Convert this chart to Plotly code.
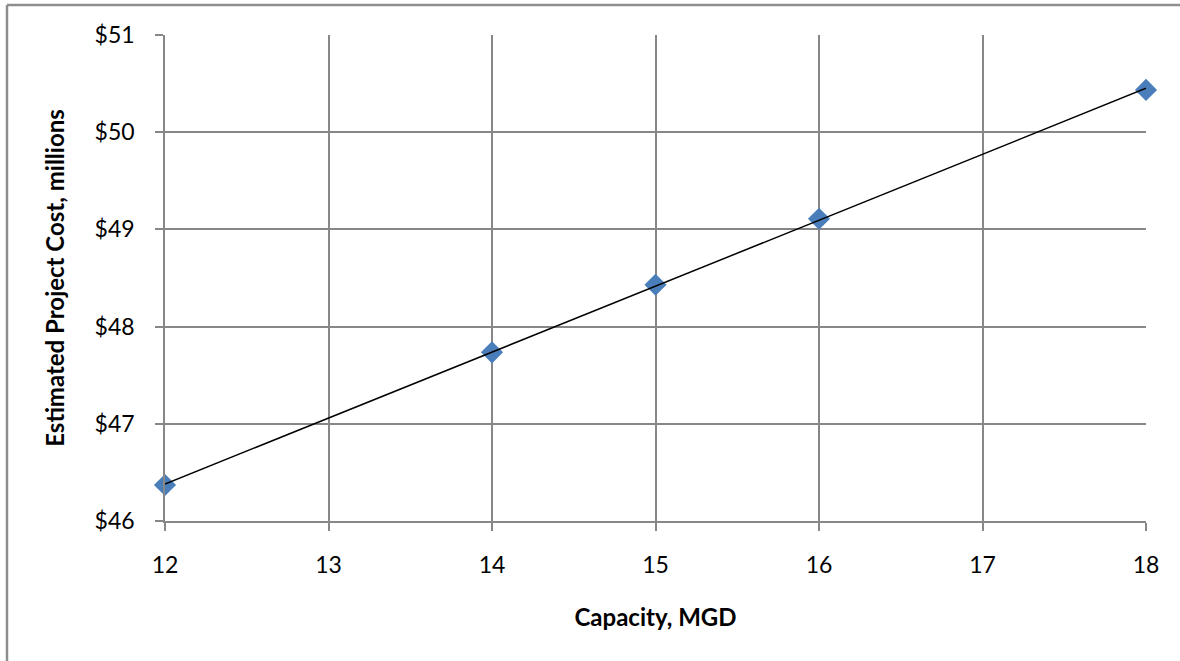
import numpy as np
import plotly.graph_objects as go

# Plant capacity (MGD) and estimated project cost ($ millions)
capacity = [12, 14, 15, 16, 18]
cost = [46.37, 47.735, 48.43, 49.11, 50.435]

x_ticks = [12, 13, 14, 15, 16, 17, 18]
y_ticks = [46, 47, 48, 49, 50, 51]
y_tick_text = ["$46", "$47", "$48", "$49", "$50", "$51"]

# Linear trend through the data
slope, intercept = np.polyfit(capacity, cost, 1)
trend_x = [min(capacity), max(capacity)]
trend_y = [slope * v + intercept for v in trend_x]

W, H = 1180, 661
ML, MR, MT, MB = 165, 34, 35, 140
PW, PH = W - ML - MR, H - MT - MB

FONT = "Lato"
GRID = "#878787"

fig = go.Figure()
fig.add_trace(go.Scatter(
    x=capacity, y=cost, mode="markers",
    marker=dict(symbol="diamond", size=17, color="#4a7ebb",
                line=dict(width=0)),
    showlegend=False, hoverinfo="x+y", cliponaxis=False,
))
# trend line drawn above the markers
fig.add_trace(go.Scatter(
    x=trend_x, y=trend_y, mode="lines",
    line=dict(color="black", width=1.5),
    showlegend=False, hoverinfo="skip", cliponaxis=False,
))

# Chart frame (top and left edges)
fx0 = (7 - ML) / PW
fy0 = (H - MB - 5) / PH
fig.add_shape(type="line", xref="paper", yref="paper",
              x0=fx0, x1=1.2, y0=fy0, y1=fy0,
              line=dict(color="#8e8e8e", width=2.5))
fig.add_shape(type="line", xref="paper", yref="paper",
              x0=fx0, x1=fx0, y0=fy0, y1=-0.4,
              line=dict(color="#8e8e8e", width=2.5))

fig.update_layout(
    width=W, height=H,
    margin=dict(l=ML, r=MR, t=MT, b=MB),
    paper_bgcolor="white", plot_bgcolor="white",
    font=dict(family=FONT, color="black", size=23),
    xaxis=dict(
        range=[12, 18], tickvals=x_ticks,
        showgrid=True, gridcolor=GRID, gridwidth=1.5,
        showline=True, linecolor=GRID, linewidth=1.5,
        ticks="outside", ticklen=8, tickcolor=GRID, tickwidth=1.5,
        ticklabelstandoff=15,
        tickfont=dict(family=FONT, size=23),
        zeroline=False,
        title=dict(text="<b>Capacity, MGD</b>", standoff=32,
                   font=dict(family=FONT, size=24)),
    ),
    yaxis=dict(
        range=[46, 51], tickvals=y_ticks, ticktext=y_tick_text,
        showgrid=True, gridcolor=GRID, gridwidth=1.5,
        showline=True, linecolor=GRID, linewidth=1.5,
        ticks="outside", ticklen=8, tickcolor=GRID, tickwidth=1.5,
        ticklabelstandoff=16,
        tickfont=dict(family=FONT, size=23),
        zeroline=False,
        title=dict(text="<b>Estimated Project Cost, millions</b>", standoff=23,
                   font=dict(family=FONT, size=24)),
    ),
)

fig.write_html("out.html")
